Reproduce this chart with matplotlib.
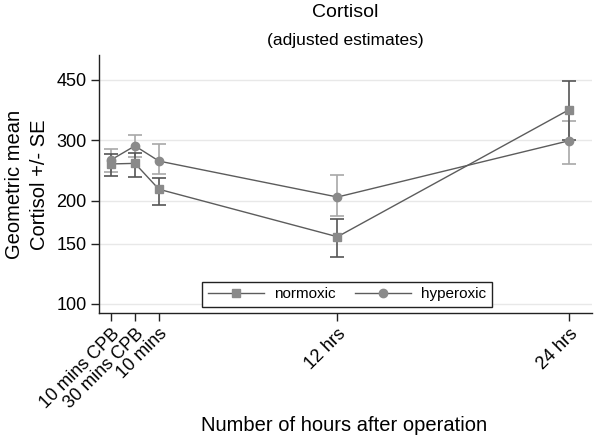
import numpy as np
import matplotlib
matplotlib.use('Agg')
import matplotlib.pyplot as plt
from matplotlib.ticker import FixedLocator, NullLocator

plt.rcParams['font.family'] = ['Liberation Sans', 'DejaVu Sans']

# plotting positions along the x axis and their labels
x_pos = [0, 1, 2, 9.45, 19.1]
x_labels = ['10 mins CPB', '30 mins CPB', '10 mins', '12 hrs', '24 hrs']

# geometric means with lower / upper SE limits
normoxic = [256, 257, 216, 157, 368]
normoxic_lo = [236, 235, 194, 137, 300]
normoxic_hi = [274, 276, 233, 177, 447]

hyperoxic = [263, 289, 261, 205, 299]
hyperoxic_lo = [242, 268, 239, 181, 256]
hyperoxic_hi = [283, 311, 293, 238, 342]

y_ticks = [100, 150, 200, 300, 450]

fig = plt.figure(figsize=(6, 4.4), dpi=100)
ax = fig.add_axes([0.165, 0.2886, 0.822, 0.5864])
ax.set_yscale('log')

line_col = '#5c5c5c'
mark_col = '#8a8a8a'

def err(v, lo, hi):
    v = np.array(v)
    return [v - np.array(lo), np.array(hi) - v]

ax.errorbar(x_pos, hyperoxic, yerr=err(hyperoxic, hyperoxic_lo, hyperoxic_hi),
            fmt='none', ecolor='#a8a8a8', elinewidth=1.2, capsize=5, capthick=1.2, zorder=2)
ax.errorbar(x_pos, normoxic, yerr=err(normoxic, normoxic_lo, normoxic_hi),
            fmt='none', ecolor='#555555', elinewidth=1.2, capsize=5, capthick=1.2, zorder=2)

ax.plot(x_pos, normoxic, '-', color=line_col, lw=1.0, marker='s', ms=6,
        mfc=mark_col, mec=mark_col, label='normoxic', zorder=3)
ax.plot(x_pos, hyperoxic, '-', color=line_col, lw=1.0, marker='o', ms=6,
        mfc=mark_col, mec=mark_col, label='hyperoxic', zorder=3)

ax.set_ylim(94.1, 532)
ax.set_xlim(-0.5, 20.08)

ax.yaxis.set_major_locator(FixedLocator(y_ticks))
ax.yaxis.set_minor_locator(NullLocator())
ax.set_yticklabels([str(t) for t in y_ticks], fontsize=13)
ax.set_xticks(x_pos)
ax.set_xticklabels(x_labels, fontsize=13, rotation=45, ha='right',
                   rotation_mode='anchor')
ax.tick_params(axis='both', length=6, width=1, color='#222222', pad=3)

ax.grid(axis='y', color='#e8e8e8', lw=1)
ax.set_axisbelow(True)
for s in ['top', 'right']:
    ax.spines[s].set_visible(False)
for s in ['left', 'bottom']:
    ax.spines[s].set_color('#222222')
    ax.spines[s].set_linewidth(1)

fig.text(0.045, 0.58, 'Geometric mean\nCortisol +/- SE', fontsize=14.5,
         rotation=90, ha='center', va='center', linespacing=1.35)
fig.text(0.573, 0.034, 'Number of hours after operation', fontsize=14.5,
         ha='center', va='center')

fig.text(0.575, 0.972, 'Cortisol', fontsize=14, ha='center', va='center')
fig.text(0.575, 0.908, '(adjusted estimates)', fontsize=12.5, ha='center', va='center')

leg = ax.legend(loc='center', bbox_to_anchor=(0.503, 0.072), ncol=2, fontsize=11,
                frameon=True, fancybox=False, edgecolor='#222222',
                handlelength=3.7, handletextpad=0.65, columnspacing=1.25,
                borderpad=0.35, borderaxespad=0)
leg.get_frame().set_linewidth(1)
leg.get_frame().set_alpha(1)

fig.savefig('out.png', dpi=100)
